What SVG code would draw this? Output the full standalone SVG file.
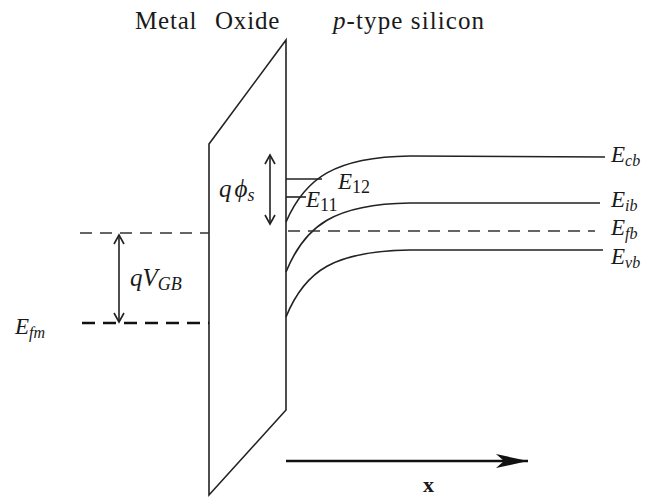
<svg xmlns="http://www.w3.org/2000/svg" width="648" height="500" viewBox="0 0 648 500">
<style>
text{font-family:"Liberation Serif","Times New Roman","DejaVu Serif",serif;fill:#1a1a1a}
.it{font-style:italic}
.ln{fill:none;stroke:#222;stroke-width:1.6}
.dash{fill:none;stroke:#333;stroke-width:1.4;stroke-dasharray:12,8}
.dash2{fill:none;stroke:#111;stroke-width:2.6;stroke-dasharray:13,8}
</style>
<defs>
<marker id="oa" markerWidth="12" markerHeight="12" refX="10" refY="6" orient="auto-start-reverse" markerUnits="userSpaceOnUse">
<path d="M1,1 L10,6 L1,11" fill="none" stroke="#222" stroke-width="1.6"/>
</marker>
<marker id="fa" markerWidth="34" markerHeight="16" refX="32" refY="8" orient="auto" markerUnits="userSpaceOnUse">
<path d="M0,1 L32,8 L0,15 L8,8 Z" fill="#111"/>
</marker>
</defs>
<g id="titles">
<text x="135" y="29" font-size="25" letter-spacing="0.8">Metal</text>
<text x="215" y="29" font-size="25" letter-spacing="0.8">Oxide</text>
<text x="333" y="29" font-size="25" letter-spacing="1.1"><tspan class="it">p</tspan>-type silicon</text>
</g>
<g id="oxide">
<path class="ln" d="M209,144 L286,40 L286,410 L209,495 Z"/>
</g>
<g id="connectors">
<path class="ln" d="M286,222 C305,178 335,157 410,156 L605,157"/>
<path class="ln" d="M286,272 C305,225 335,204 410,203 L600,203"/>
<path class="ln" d="M286,317 C305,270 335,251 410,250 L603,250"/>
<path class="dash" d="M288,231 L595,231"/>
<path class="dash" d="M80,233 L209,233"/>
<path class="dash2" d="M82,323 L209,323"/>
<path class="ln" d="M286,179 L322,179"/>
<path class="ln" d="M286,197 L306,197"/>
<path class="ln" d="M270,155 L270,224" marker-start="url(#oa)" marker-end="url(#oa)"/>
<path class="ln" d="M119,235 L119,322" marker-start="url(#oa)" marker-end="url(#oa)"/>
<path d="M286,461 L528,461" stroke="#111" stroke-width="2.4" fill="none" marker-end="url(#fa)"/>
</g>
<g id="labels">
<text x="611" y="162" font-size="23" class="it">E<tspan font-size="16" dy="4">cb</tspan></text>
<text x="611" y="207" font-size="23" class="it">E<tspan font-size="16" dy="4">ib</tspan></text>
<text x="611" y="235" font-size="23" class="it">E<tspan font-size="16" dy="4">fb</tspan></text>
<text x="611" y="264" font-size="23" class="it">E<tspan font-size="16" dy="4">vb</tspan></text>
<text x="338" y="189" font-size="23" class="it">E<tspan font-size="18" dy="4" font-style="normal">12</tspan></text>
<text x="306" y="207" font-size="23" class="it">E<tspan font-size="18" dy="4" font-style="normal">11</tspan></text>
<text x="219" y="197" font-size="25" class="it">q<tspan dx="3">ϕ</tspan><tspan font-size="18" dy="4">s</tspan></text>
<text x="130" y="286" font-size="25" class="it">qV<tspan font-size="18" dy="4">GB</tspan></text>
<text x="15" y="334" font-size="23" class="it">E<tspan font-size="16" dy="4">fm</tspan></text>
<text x="423" y="492" font-size="22" font-weight="bold">x</text>
</g>
</svg>
